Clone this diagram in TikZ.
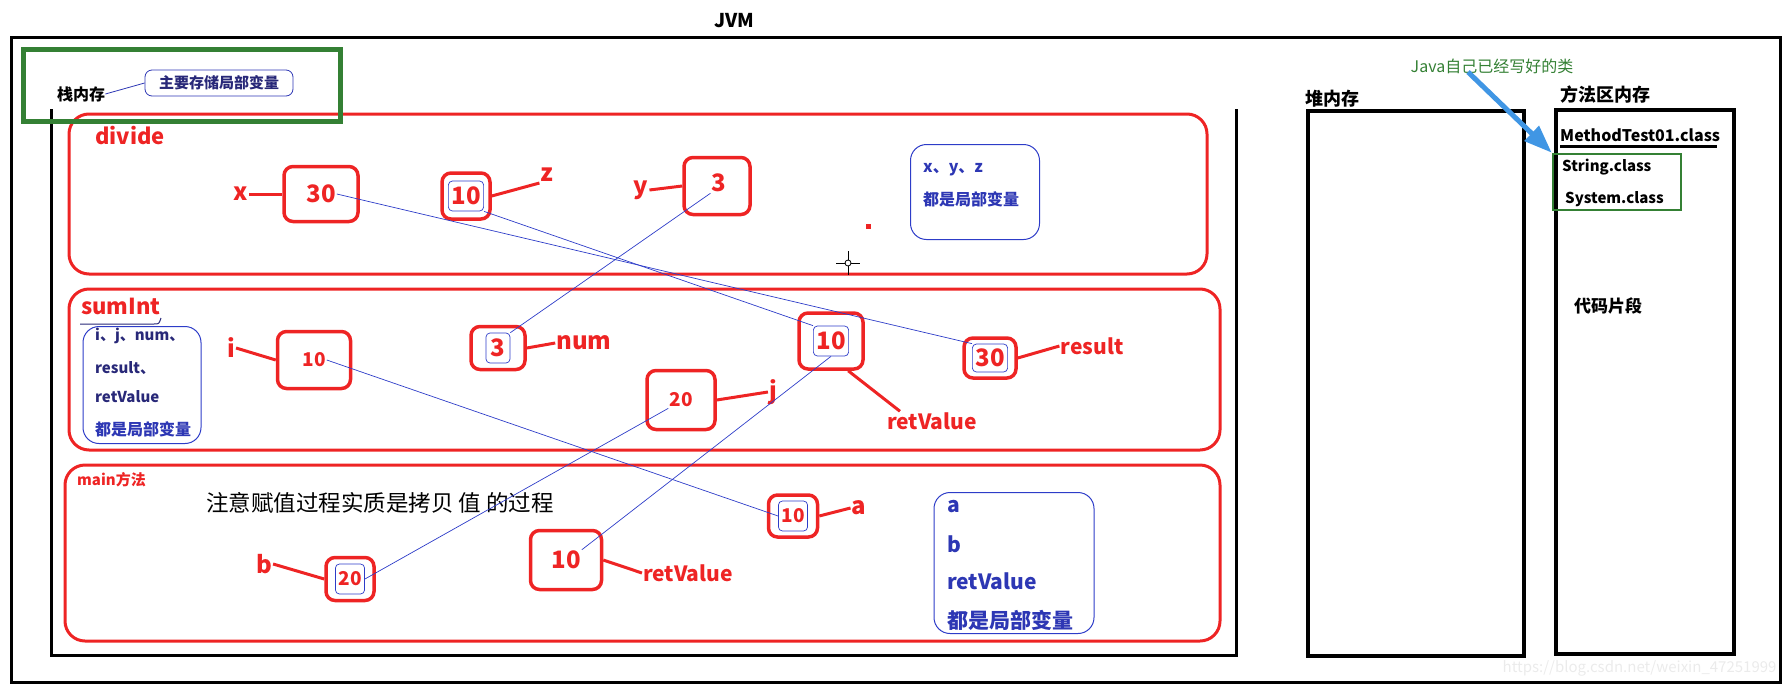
\documentclass[tikz,border=0pt]{standalone}
\usepackage{fontspec}
\setmainfont{Noto Sans CJK SC}
\usetikzlibrary{arrows.meta}
\definecolor{jred}{RGB}{238,36,36}
\definecolor{jblue}{RGB}{45,60,200}
\definecolor{jink}{RGB}{45,55,180}
\definecolor{jnavy}{RGB}{40,40,120}
\definecolor{jgreen}{RGB}{52,128,52}
\definecolor{jsky}{RGB}{64,150,228}
\newcommand\fsz[1]{\fontsize{#1}{#1}\selectfont}
\tikzset{
  frame/.style={draw=black,line width=3pt},
  method/.style={draw=jred,line width=3pt,rounded corners=20pt},
  cell/.style={draw=jred,line width=3.5pt,rounded corners=9pt,inner sep=0pt},
  val/.style={text=jred,font=\bfseries\fsz{#1},inner sep=1pt},
  inval/.style={val=#1,draw=jblue,line width=0.7pt,rounded corners=4pt,inner sep=3pt,minimum height=30pt,minimum width=28pt},
  vname/.style={text=jred,font=\bfseries\fsz{#1},inner sep=1pt},
  vname/.default=24,
  tie/.style={jred,line width=3pt},
  copyline/.style={jblue,line width=0.7pt},
  note/.style={draw=jblue,line width=1pt,rounded corners=16pt},
  notetext/.style={text=jink,font=\bfseries\fsz{#1},anchor=west,inner sep=0pt},
  title/.style={font=\bfseries\fsz{#1},inner sep=0pt}
}
\begin{document}
\begin{tikzpicture}[x=1pt,y=-1pt]
\useasboundingbox (0,0) rectangle (1791,691);
% JVM
\draw[frame] (11,37) rectangle (1780,682);
\node[title=19] (jvm) at (734,21) {JVM};

% stack memory
\draw[frame] (51,109) -- (51,655) -- (1236,655) -- (1236,109);
\draw[method] (69,114) rectangle (1207,274);
\draw[method] (69,289) rectangle (1220,450);
\draw[method] (65,465) rectangle (1220,641);
\draw[draw=jgreen,line width=5pt] (23,49) rectangle (340,121);
\node[title=16,anchor=west] (stack) at (57,94) {栈内存};
\node[draw=jink,line width=0.8pt,rounded corners=7pt,font=\bfseries\fsz{15},text=jnavy,minimum width=148pt,minimum height=26pt] (stacknote) at (219,83) {主要存储局部变量};
\draw[jink,line width=0.8pt] (stack.east) -- (stacknote.west);

% divide
\node[vname=22,anchor=west] (divname) at (94,136) {divide};
\node[vname] (xname) at (241,194) {x};
\node[cell,minimum width=74pt,minimum height=55pt] (xbox) at (321,194) {};
\node[val=24] (xval) at (xbox) {30};
\node[cell,minimum width=48pt,minimum height=46pt] (zbox) at (466,196) {};
\node[inval=24] (zval) at (zbox) {10};
\node[vname] (zname) at (547,175) {z};
\node[vname] (yname) at (641,190) {y};
\node[cell,minimum width=66pt,minimum height=57pt] (ybox) at (717,186) {};
\node[val=24] (yval) at (719,183) {3};
\node[note,minimum width=129pt,minimum height=95pt] (divnote) at (975,192) {};
\node[notetext=16] (divnote1) at (923,170) {x、y、z};
\node[notetext=16] (divnote2) at (923,199) {都是局部变量};
\fill[jred] (866,224) rectangle (871,229);
\draw[line width=0.8pt] (836,263) -- (860,263) (848,251) -- (848,275);
\draw[line width=0.8pt,fill=white] (848,263) circle (3);
\draw[tie] (xname.east) -- (xbox.west);
\draw[tie] (zbox.east) -- (zname.south west);
\draw[tie] (yname.east) -- (ybox.west);

% sumInt
\node[vname=22,anchor=west] (sumname) at (80,306) {sumInt};
\draw[jnavy,line width=1pt] (80,324) -- (154,324) .. controls (159,324) .. (161,318);
\node[note,minimum width=118pt,minimum height=117pt] (sumnote) at (142,385) {};
\node[notetext=15,text=jnavy] (sumnote1) at (95,336) {i、j、num、};
\node[notetext=15,text=jnavy] (sumnote2) at (95,368) {result、};
\node[notetext=15,text=jnavy] (sumnote3) at (95,397) {retValue};
\node[notetext=16] (sumnote4) at (95,429) {都是局部变量};
\node[vname] (iname) at (231,348) {i};
\node[cell,minimum width=73pt,minimum height=57pt] (ibox) at (314,360) {};
\node[val=19] (ival) at (ibox) {10};
\node[cell,minimum width=54pt,minimum height=43pt] (numbox) at (498,348) {};
\node[inval=24,minimum width=24pt] (numval) at (numbox) {3};
\node[vname] (numname) at (584,343) {num};
\node[cell,minimum width=64pt,minimum height=56pt] (rvbox) at (831,341) {};
\node[inval=24] (rvval) at (rvbox) {10};
\node[vname=21] (rvname) at (932,421) {retValue};
\node[cell,minimum width=52pt,minimum height=40pt] (resbox) at (990,358) {};
\node[inval=24,minimum height=28pt] (resval) at (resbox) {30};
\node[vname=21] (resname) at (1092,346) {result};
\node[cell,minimum width=68pt,minimum height=59pt] (jbox) at (681,400) {};
\node[val=19] (jval) at (jbox) {20};
\node[vname] (jname) at (773,392) {j};
\draw[tie] (iname.east) -- (ibox.west);
\draw[tie] (numbox.east) -- (numname.west);
\draw[tie] (rvbox.-60) -- ([xshift=14pt]rvname.north west);
\draw[tie] (resbox.east) -- (resname.west);
\draw[tie] (jbox.east) -- (jname.west);

% main
\node[text=jred,font=\bfseries\fsz{15},anchor=west,inner sep=0pt] (mainname) at (77,480) {main方法};
\node[font=\fsz{22.5}] (hint) at (380,503) {注意赋值过程实质是拷贝 值 的过程};
\node[vname] (bname) at (264,564) {b};
\node[cell,minimum width=48pt,minimum height=43pt] (bbox) at (350,579) {};
\node[inval=19] (bval) at (bbox) {20};
\node[cell,minimum width=71pt,minimum height=59pt] (mrbox) at (566,560) {};
\node[val=24] (mrval) at (mrbox) {10};
\node[vname=21] (mrname) at (688,573) {retValue};
\node[cell,minimum width=49pt,minimum height=42pt] (abox) at (793,516) {};
\node[inval=19] (aval) at (abox) {10};
\node[vname] (aname) at (859,508) {a};
\node[note,minimum width=160pt,minimum height=141pt] (mainnote) at (1014,563) {};
\node[notetext=21] (mainnote1) at (947,507) {a};
\node[notetext=21] (mainnote2) at (947,544) {b};
\node[notetext=21] (mainnote3) at (947,581) {retValue};
\node[notetext=21] (mainnote4) at (947,620) {都是局部变量};
\draw[tie] (bname.east) -- (bbox.west);
\draw[tie] (mrbox.east) -- (mrname.west);
\draw[tie] (abox.east) -- (aname.west);

% copies of values
\draw[copyline] (xval.east) -- (resval.north west);
\draw[copyline] (zval.south east) -- (rvval.north west);
\draw[copyline] (yval.south west) -- (numval.north east);
\draw[copyline] (ival.east) -- (aval.west);
\draw[copyline] (jval.south west) -- (bval.east);
\draw[copyline] (rvval.south) -- (mrval.north east);

% heap and method area
\draw[line width=4pt] (1308,111) rectangle (1524,656);
\node[title=18,anchor=west] (heap) at (1305,99) {堆内存};
\draw[line width=4pt] (1556,110) rectangle (1734,654);
\node[title=18,anchor=west] (area) at (1560,95) {方法区内存};
\node[title=16,anchor=west] (cls) at (1560,135) {MethodTest01.class};
\draw[line width=3pt] (1560,146) -- (1717,146);
\node[draw=jgreen,line width=2.5pt,minimum width=128pt,minimum height=56pt] (lib) at (1617,182) {};
\node[title=15,anchor=west] (strcls) at (1562,167) {String.class};
\node[title=15,anchor=west] (syscls) at (1565,199) {System.class};
\node[title=17,anchor=west] (code) at (1574,306) {代码片段};
\node[text=jgreen,font=\fsz{16}] (javalib) at (1492,66) {Java自己已经写好的类};
\coordinate (javatail) at (1468,72);
\draw[jsky,line width=5pt,-{Triangle[length=28pt,width=20pt]}] (javatail) -- (lib.north west);
\node[text=black!8,font=\fsz{15},anchor=east] (mark) at (1780,668) {https://blog.csdn.net/weixin\_47251999};
\end{tikzpicture}
\end{document}
